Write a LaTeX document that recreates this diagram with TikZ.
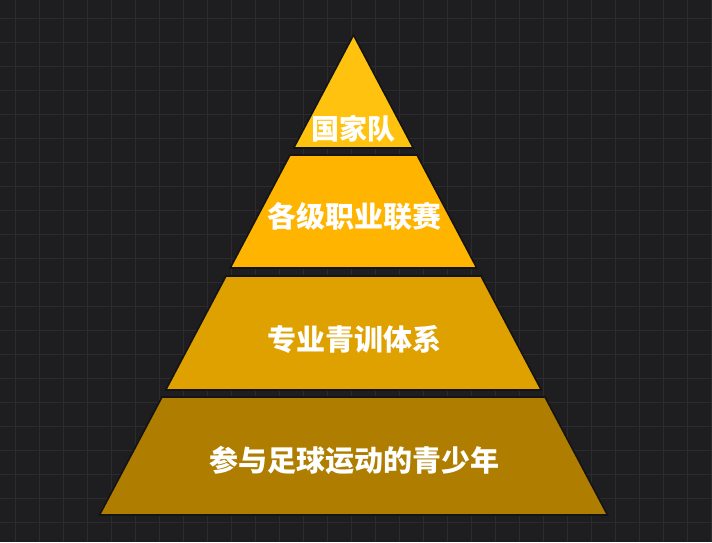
\documentclass[tikz,border=0pt]{standalone}
\usepackage{fontspec}
\newfontfamily\cjk{Noto Sans CJK SC}
\definecolor{bgc}{HTML}{1E1E21}
\definecolor{gridc}{HTML}{2C2C2F}
\definecolor{tierA}{HTML}{FFC20E}
\definecolor{tierB}{HTML}{FFB400}
\definecolor{tierC}{HTML}{DFA100}
\definecolor{tierD}{HTML}{AF7E00}
\tikzset{
  tier/.style={draw=black!92, line width=1.6pt, line join=miter},
  lbl/.style={text=white, font=\cjk\bfseries\fontsize{29}{32}\selectfont, inner sep=0pt}
}
\begin{document}
\begin{tikzpicture}[x=1pt,y=-1pt]
\fill[bgc] (0,0) rectangle (712,542);
\useasboundingbox (0,0) rectangle (712,542);
\foreach \gx in {15,39,...,711} \draw[gridc, line width=1pt] (\gx,0) -- (\gx,542);
\foreach \gy in {18,42,...,541} \draw[gridc, line width=1pt] (0,\gy) -- (712,\gy);
\fill[tierA, tier] (353.5,35) -- (413.3,148) -- (293.7,148) -- cycle;
\fill[tierB, tier] (290,155) -- (417,155) -- (476.8,268) -- (230.2,268) -- cycle;
\fill[tierC, tier] (226,276) -- (481,276) -- (541.3,390) -- (165.7,390) -- cycle;
\fill[tierD, tier] (162,397) -- (545,397) -- (607.5,515) -- (99.5,515) -- cycle;
\node[lbl, font=\cjk\bfseries\fontsize{28}{31}\selectfont] (t1) at (353.5,129) {国家队};
\node[lbl] (t2) at (354,216.5) {各级职业联赛};
\node[lbl] (t3) at (354,339.5) {专业青训体系};
\node[lbl] (t4) at (354,460) {参与足球运动的青少年};
\end{tikzpicture}
\end{document}
